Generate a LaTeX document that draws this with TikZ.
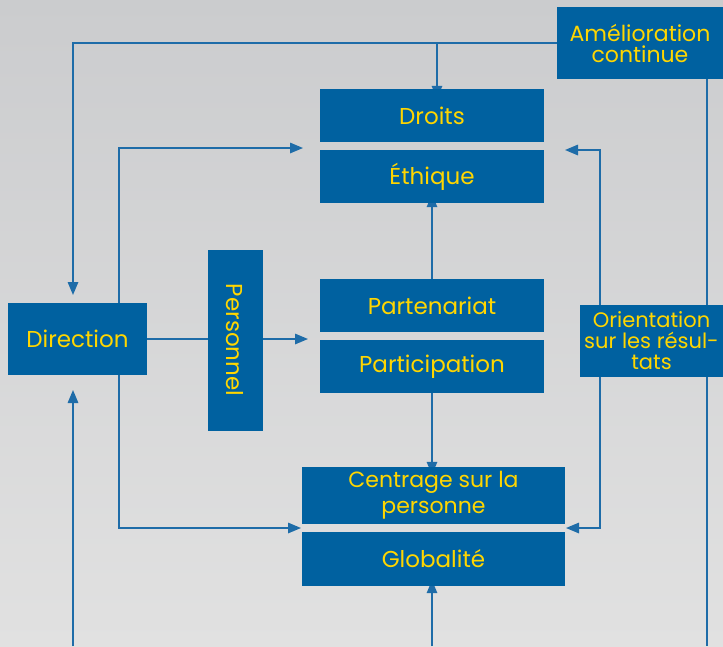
\documentclass[tikz,border=0pt]{standalone}
\usepackage{fontspec}
\setmainfont{Poppins}
\usetikzlibrary{arrows.meta}
\definecolor{boxblue}{RGB}{0,97,160}
\definecolor{lineblue}{RGB}{30,108,168}
\definecolor{txtyellow}{RGB}{255,214,0}
\definecolor{bgtop}{RGB}{203,204,206}
\definecolor{bgbot}{RGB}{225,225,225}
\pgfdeclarelayer{bg}
\pgfsetlayers{bg,main}
\tikzset{
  blk/.style={draw=none, fill=boxblue, text=txtyellow, inner sep=0pt, align=center,
    font=\fontsize{23}{22}\selectfont},
  ln/.style={draw=lineblue, line width=1.5pt},
  arr/.style={ln, -{Triangle[length=13pt,width=10.5pt]}},
  arr2/.style={ln, {Triangle[length=13pt,width=10.5pt]}-{Triangle[length=13pt,width=10.5pt]}}
}
\begin{document}
\begin{tikzpicture}[x=1pt,y=-1pt]
\useasboundingbox (0,0) rectangle (723,646);
% nodes
\node[blk, minimum width=166pt, minimum height=72pt, font=\fontsize{22}{21}\selectfont] (amel) at (640,43) {Amélioration\\continue};
\node[blk, minimum width=224pt, minimum height=53pt] (droits) at (432,115.5) {Droits};
\node[blk, minimum width=224pt, minimum height=53pt] (ethique) at (432,176.5) {Éthique};
\node[blk, minimum width=224pt, minimum height=53pt] (part) at (432,305.5) {Partenariat};
\node[blk, minimum width=224pt, minimum height=53pt] (partic) at (432,366.5) {Participation};
\node[blk, minimum width=263pt, minimum height=57pt, font=\fontsize{22}{26}\selectfont] (centr) at (433.5,495.5) {Centrage sur la\\personne};
\node[blk, minimum width=263pt, minimum height=54pt] (glob) at (433.5,559) {Globalité};
\node[blk, minimum width=139pt, minimum height=72pt] (dir) at (77.5,339) {Direction};
\node[blk, minimum width=55pt, minimum height=181pt] (pers) at (235.5,340) {};
\node[rotate=-90, text=txtyellow, font=\fontsize{23}{22}\selectfont, inner sep=0pt] (perst) at (234.5,340) {Personnel};
\node[blk, minimum width=143pt, minimum height=72pt, font=\fontsize{21}{21}\selectfont] (orient) at (651.5,341) {Orientation\\sur les résul-\\tats};
% coordinates
\coordinate (topL) at (73,43);
\coordinate (topJ) at (437,43);
\coordinate (dirTopTip) at (73,295);
\coordinate (dirBotTip) at (73,390);
\coordinate (botL) at (73,646);
\coordinate (xL) at (119,0);
\coordinate (xM) at (432,0);
\coordinate (tipEth) at (303,148);
\coordinate (tipPart) at (308,339);
\coordinate (tipCen) at (301,528);
\coordinate (tipEthR) at (565,150);
\coordinate (tipCenR) at (566,528);
\coordinate (rA) at (600,150);
\coordinate (rB) at (600,528);
\coordinate (rTop) at (707,79);
\coordinate (rBot) at (707,646);
\coordinate (botM) at (432,646);
\begin{pgfonlayer}{bg}
\shade[top color=bgtop, bottom color=bgbot] (0,0) rectangle (723,646);
% connectors
\draw[arr] (amel.west) -- (topL) -- (dirTopTip);
\draw[arr] (topJ) -- ([yshift=-10pt]topJ |- droits.north);
\draw[ln] (rTop) -- (rBot);
\draw[arr] (dir.north -| xL) |- (tipEth);
\draw[ln] (dir.east) -- (dir.east -| pers.west);
\draw[arr] (tipPart -| pers.east) -- (tipPart);
\draw[arr] (dir.south -| xL) |- (tipCen);
\draw[arr] (botL) -- (dirBotTip);
\draw[arr] ([yshift=-9pt]part.north) -- ([yshift=9pt]ethique.south);
\draw[arr] ([yshift=7pt]partic.south) -- ([yshift=-8pt]xM |- centr.north);
\draw[arr] (botM) -- ([yshift=6pt]botM |- glob.south);
\draw[arr2] (tipEthR) -- (rA) -- (rB) -- (tipCenR);
\end{pgfonlayer}
\end{tikzpicture}
\end{document}
